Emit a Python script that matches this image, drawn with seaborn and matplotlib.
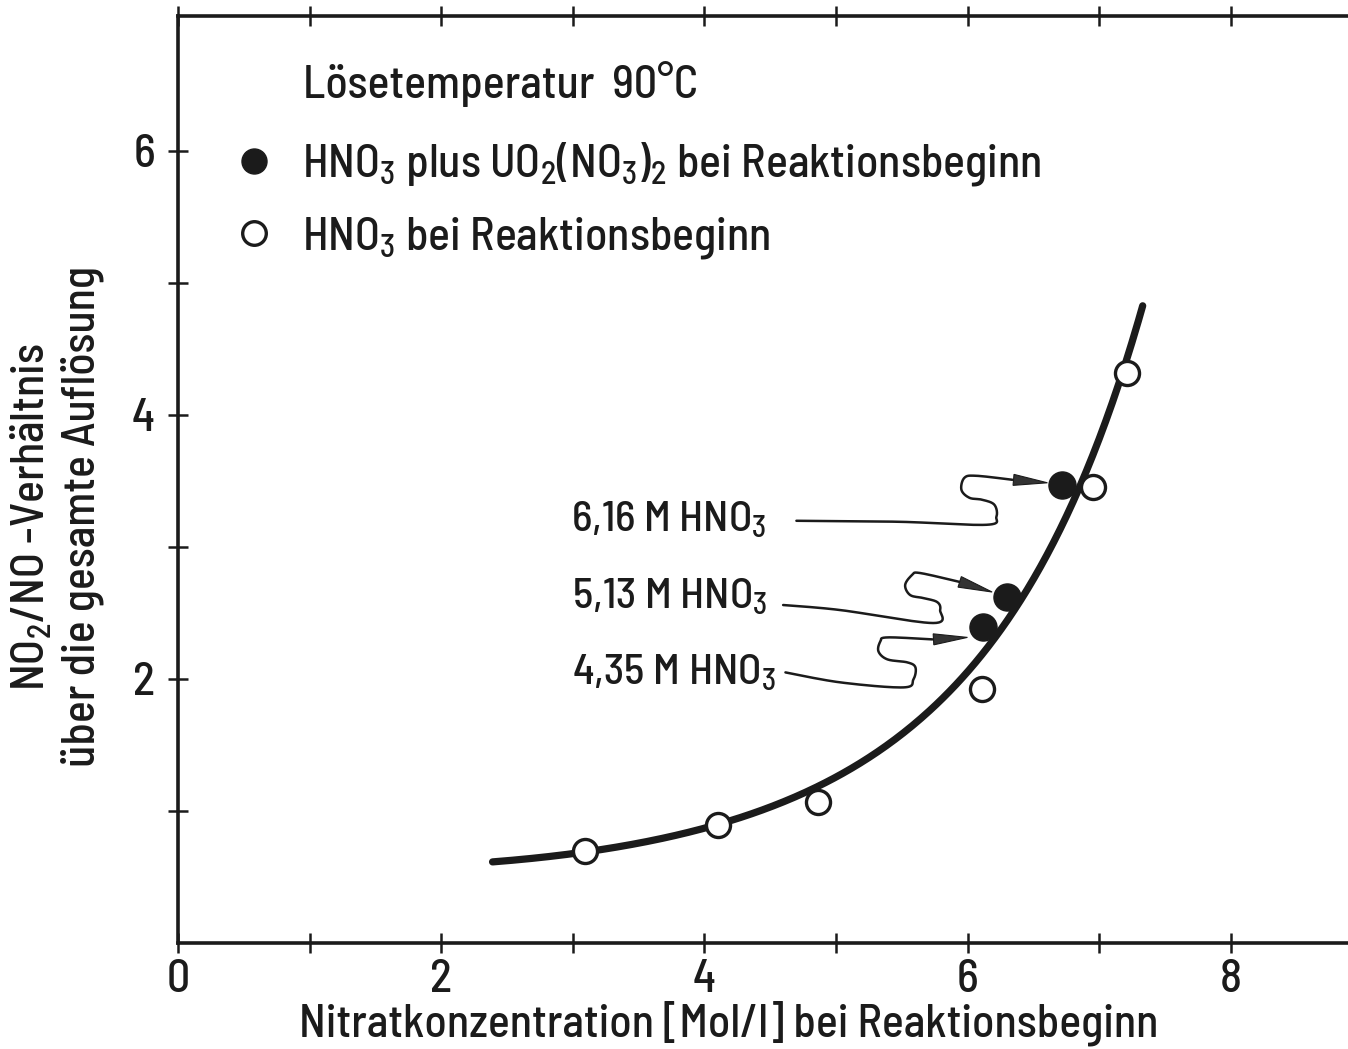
import numpy as np
import pandas as pd
import matplotlib
matplotlib.use("Agg")
import matplotlib.pyplot as plt
import matplotlib.transforms as mtransforms
from matplotlib.patches import Polygon
from matplotlib.lines import Line2D
from matplotlib.ticker import FixedLocator, NullFormatter
import seaborn as sns

# ---- data -------------------------------------------------------------
# HNO3 only at start of reaction (open circles)
open_x = [3.09, 4.10, 4.86, 6.11, 6.95, 7.21]
open_y = [0.70, 0.89, 1.07, 1.92, 3.45, 4.32]
# HNO3 plus UO2(NO3)2 at start of reaction (filled circles)
filled_x = [6.12, 6.30, 6.72]
filled_y = [2.39, 2.62, 3.47]
filled_labels = ["4,35 M HNO$_3$", "5,13 M HNO$_3$", "6,16 M HNO$_3$"]
# hand-drawn trend curve
curve_x = [2.39, 3.09, 4.10, 4.86, 5.21, 5.64, 6.19, 6.38, 6.84, 7.21, 7.33]
curve_y = [0.61, 0.70, 0.89, 1.17, 1.39, 1.70, 2.30, 2.55, 3.47, 4.32, 4.89]
x_major = [0, 2, 4, 6, 8]
x_minor = [1, 3, 5, 7]
y_major = [2, 4, 6]
y_minor = [1, 3, 5]

INK = "#1b1b1b"
FAM = "Barlow Semi Condensed"
FONT = [FAM, "DejaVu Sans"]
FS = 33
FS_ANN = 31
WT = "medium"

sns.set_theme(style="white")
plt.rcParams["font.family"] = FONT
plt.rcParams["font.weight"] = WT
plt.rcParams["axes.labelweight"] = WT
plt.rcParams["mathtext.fontset"] = "custom"
plt.rcParams["mathtext.rm"] = FAM + ":medium"
plt.rcParams["mathtext.it"] = FAM + ":medium"
plt.rcParams["mathtext.bf"] = FAM + ":bold"
plt.rcParams["text.color"] = INK

fig = plt.figure(figsize=(13.48, 10.49), dpi=100)
W, H = 1348, 1049
ax = fig.add_axes([178 / W, (H - 943) / H, (W - 178) / W, (943 - 16) / H])
ax.set_xlim(0, 8.89)
ax.set_ylim(0, 7.02)

# smooth trend curve through the traced nodes (cubic in log space)
coef = np.polyfit(curve_x, np.log(curve_y), 3)
xs = np.linspace(curve_x[0], curve_x[-1], 300)
curve_df = pd.DataFrame({"x": xs, "y": np.exp(np.polyval(coef, xs))})
sns.lineplot(data=curve_df, x="x", y="y", ax=ax, color=INK, lw=5.2,
             solid_capstyle="round", zorder=2)

sns.scatterplot(x=open_x, y=open_y, ax=ax, s=300, facecolor="white",
                edgecolor=INK, linewidth=2.4, zorder=3)
sns.scatterplot(x=filled_x, y=filled_y, ax=ax, s=380, color=INK,
                edgecolor=INK, linewidth=1, zorder=4)

# ---- spines & ticks ---------------------------------------------------
for side in ["left", "bottom", "top"]:
    ax.spines[side].set_visible(True)
    ax.spines[side].set_linewidth(2.6)
    ax.spines[side].set_color(INK)
ax.spines["right"].set_visible(False)

ax.set_xticks(x_major)
ax.set_xticklabels([str(v) for v in x_major], fontweight=WT)
ax.set_yticks(y_major)
ax.set_yticklabels([str(v) for v in y_major], fontweight=WT)
ax.xaxis.set_minor_locator(FixedLocator(x_minor))
ax.yaxis.set_minor_locator(FixedLocator(y_minor))
ax.xaxis.set_minor_formatter(NullFormatter())
ax.yaxis.set_minor_formatter(NullFormatter())
ax.tick_params(which="both", direction="inout", length=15, width=1.8,
               color=INK, top=True, bottom=True, left=True, right=False,
               labeltop=False)
ax.tick_params(axis="x", which="major", labelsize=FS, pad=4, labelcolor=INK)
ax.tick_params(axis="y", which="major", labelsize=FS, pad=9, labelcolor=INK)

ax.set_xlabel("Nitratkonzentration [Mol/l] bei Reaktionsbeginn",
              fontsize=FS, color=INK, fontweight=WT)
ax.xaxis.set_label_coords(0.471, -0.062)
ax.set_ylabel("NO$_2$/NO -Verhältnis\nüber die gesamte Auflösung",
              fontsize=FS, color=INK, linespacing=1.2, fontweight=WT)
ax.yaxis.set_label_coords(-0.063, 0.46)

# ---- title and legend -------------------------------------------------
ax.text(0.107, 0.912, "Lösetemperatur  90°C", transform=ax.transAxes,
        fontsize=FS, ha="left", va="baseline", color=INK)
handles = [
    Line2D([], [], ls="none", marker="o", ms=18, mfc=INK, mec=INK),
    Line2D([], [], ls="none", marker="o", ms=17, mfc="white", mec=INK, mew=2.4),
]
ax.legend(handles, ["HNO$_3$ plus UO$_2$(NO$_3$)$_2$ bei Reaktionsbeginn",
                    "HNO$_3$ bei Reaktionsbeginn"],
          loc="upper left", bbox_to_anchor=(0.045, 0.866), frameon=False,
          fontsize=FS, handlelength=1.0, handletextpad=0.55,
          labelspacing=0.58, borderpad=0, borderaxespad=0)

# ---- leader lines with arrowheads (offsets in dots from each point) ----
def catmull(pts, n=14):
    P = np.asarray(pts, float)
    P = np.vstack([P[0], P, P[-1]])
    segs = []
    t = np.linspace(0, 1, n, endpoint=False)[:, None]
    for i in range(1, len(P) - 2):
        p0, p1, p2, p3 = P[i - 1], P[i], P[i + 1], P[i + 2]
        segs.append(0.5 * (2 * p1 + (-p0 + p2) * t
                           + (2 * p0 - 5 * p1 + 4 * p2 - p3) * t ** 2
                           + (-p0 + 3 * p1 - 3 * p2 + p3) * t ** 3))
    segs.append(P[-2][None])
    return np.vstack(segs)

leaders = [
    # 4,35 M
    [(-198, 45), (-143, 55), (-80, 60), (-70, 52), (-68, 40), (-76, 35),
     (-96, 32), (-105, 24), (-103, 14), (-96, 10), (-51, 12)],
    # 5,13 M
    [(-224, 8), (-167, 13), (-74, 26), (-67, 13), (-70, 5), (-84, 1),
     (-97, -2), (-102, -12), (-95, -22), (-87, -24), (-47, -15)],
    # 6,16 M
    [(-266, 36), (-163, 37), (-76, 40), (-66, 32), (-68, 20), (-80, 15),
     (-93, 13), (-101, 5), (-98, -7), (-86, -9), (-50, -5)],
]
tips = [(-16, 10), (-15, -5), (-15, -2)]
label_offsets = [(-411, -57), (-435, -11), (-491, -47)]

for x, y, lab, path, tip, loff in zip(filled_x, filled_y, filled_labels,
                                      leaders, tips, label_offsets):
    trans = (mtransforms.Affine2D().scale(fig.dpi / 100.0, -fig.dpi / 100.0)
             + mtransforms.ScaledTranslation(x, y, ax.transData))
    pts = catmull(path)
    ax.plot(pts[:, 0], pts[:, 1], color=INK, lw=1.8, transform=trans,
            solid_capstyle="round", zorder=5, clip_on=False)
    base = np.array(path[-1], float)
    tipv = np.array(tip, float)
    d = tipv - base
    d /= np.hypot(*d)
    nrm = np.array([-d[1], d[0]])
    base_a = tipv - d * 34
    tri = Polygon([base_a + nrm * 5.5, tipv, base_a - nrm * 5.5],
                  closed=True, facecolor="#333333", edgecolor=INK, lw=0.8,
                  transform=trans, zorder=6)
    ax.add_patch(tri)
    ax.annotate(lab, xy=(x, y), xytext=(loff[0] * fig.dpi / 100.0,
                                        loff[1] * fig.dpi / 100.0),
                textcoords="offset pixels", fontsize=FS_ANN, ha="left",
                va="baseline", color=INK)

fig.savefig("out.png", dpi=100)
